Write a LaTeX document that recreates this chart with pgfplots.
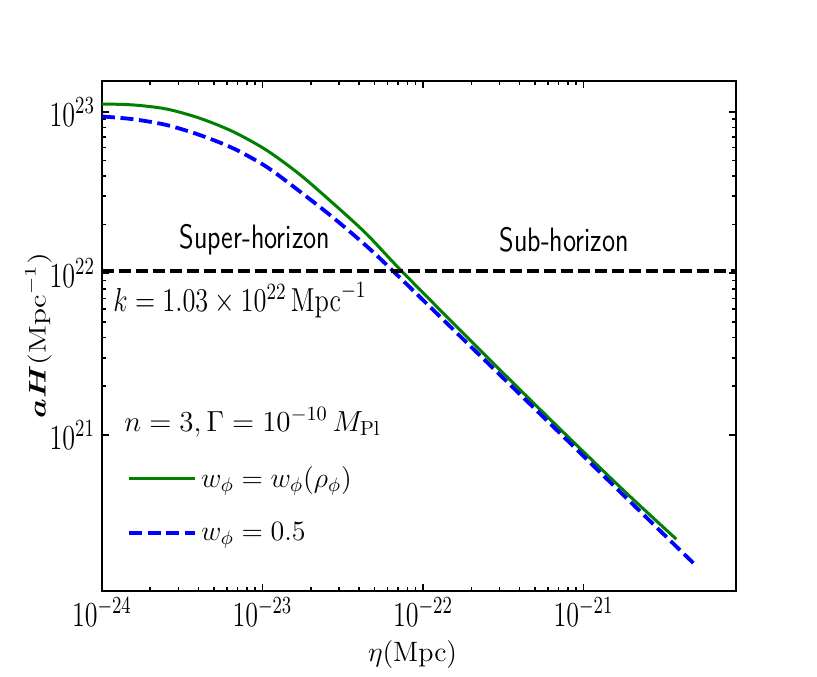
\documentclass[border=0pt]{standalone}
\usepackage{fix-cm}
\usepackage{amsmath,amssymb,bm}
\usepackage{pgfplots}
\pgfplotsset{compat=1.18}
\definecolor{mplgreen}{HTML}{008000}
\definecolor{mplblue}{HTML}{0000FF}
% the reference text is set tall and narrow
\newcommand{\tl}[1]{\scalebox{1}[1.35]{$10^{#1}$}}
\newcommand{\tall}[1]{\scalebox{1}[1.26]{#1}}

% curves: eta (Mpc), aH (Mpc^-1)
\begin{document}
\begin{tikzpicture}
\path[use as bounding box] (0,0) rectangle (408.5pt,338pt);
\begin{axis}[
  at={(51pt,42.5pt)}, anchor=south west,
  width=317pt, height=255.2pt, scale only axis,
  xmode=log, ymode=log,
  xmin=1e-24, xmax=8.9e-21,
  ymin=1.08e20, ymax=1.56e23,
  axis line style={line width=1pt},
  major tick length=3.5pt, minor tick length=2pt,
  every tick/.style={black, line width=0.8pt},
  tick label style={font=\fontsize{13}{15}\selectfont},
  xtick={1e-24,1e-23,1e-22,1e-21},
  xticklabels={\tl{-24},\tl{-23},\tl{-22},\tl{-21}},
  ytick={1e21,1e22,1e23},
  yticklabels={\tl{21},\tl{22},\tl{23}},
  xlabel={$\eta(\mathrm{Mpc})$},
  ylabel={\scalebox{1.3}[1]{$\boldsymbol{aH}(\mathrm{Mpc}^{-1})$}},
  xlabel style={font=\fontsize{14}{17}\selectfont, at={(axis description cs:0.49,-0.125)}, anchor=center},
  ylabel style={font=\fontsize{12}{15}\selectfont, at={(axis description cs:-0.1,0.5)}, anchor=center},
  legend style={at={(axis description cs:0.03,0.26)}, anchor=north west,
    draw=none, fill=none, font=\fontsize{14}{17}\selectfont,
    row sep=12pt, nodes={inner sep=2pt}},
  legend cell align=left,
  legend image code/.code={\draw[#1] (0pt,0pt) -- (33pt,0pt);},
]
\addplot[mplgreen, line width=1.5pt, smooth, tension=0.5] coordinates {
  (1.0e-24,1.117e23) (1.567e-24,1.102e23) (2.523e-24,1.040e23)
  (4.064e-24,9.12e22) (6.561e-24,7.53e22) (1.057e-23,5.79e22)
  (1.702e-23,4.10e22) (2.742e-23,2.72e22) (4.426e-23,1.76e22)
  (7.447e-23,1.02e22) (2.29e-22,3.31e21) (7.047e-22,1.10e21)
  (1.832e-21,4.40e20) (3.784e-21,2.26e20)
};
\addlegendentry{$w_\phi = w_\phi(\rho_\phi)$}
\addplot[mplblue, line width=1.9pt, dash pattern=on 6.5pt off 2.8pt, smooth, tension=0.5] coordinates {
  (1.0e-24,9.35e22) (1.567e-24,8.99e22) (2.523e-24,8.28e22)
  (4.064e-24,7.18e22) (6.561e-24,5.94e22) (1.057e-23,4.57e22)
  (1.702e-23,3.22e22) (2.742e-23,2.22e22) (4.426e-23,1.48e22)
  (6.730e-23,1.0e22) (2.19e-22,3.20e21) (7.047e-22,1.035e21)
  (1.832e-21,4.10e20) (5.105e-21,1.524e20)
};
\addlegendentry{$w_\phi = 0.5$}
\addplot[black, line width=1.9pt, dash pattern=on 6pt off 2.5pt, forget plot] coordinates {
  (1e-24,1.03e22) (8.9e-21,1.03e22)
};
\node[font=\fontsize{13.4}{16}\selectfont\sffamily] at (axis description cs:0.241,0.688) {\tall{Super-horizon}};
\node[font=\fontsize{13.4}{16}\selectfont\sffamily] at (axis description cs:0.729,0.688) {\tall{Sub-horizon}};
\node[anchor=west, inner sep=0pt, font=\fontsize{13.2}{16}\selectfont] at (axis description cs:0.0174,0.570)
  {\tall{$k = 1.03\times10^{22}\,\mathrm{Mpc}^{-1}$}};
\node[anchor=west, inner sep=0pt, font=\fontsize{14.5}{17}\selectfont] at (axis description cs:0.0347,0.331)
  {$n=3, \Gamma=10^{-10}\,M_{\mathrm{Pl}}$};
\end{axis}
\end{tikzpicture}
\end{document}
